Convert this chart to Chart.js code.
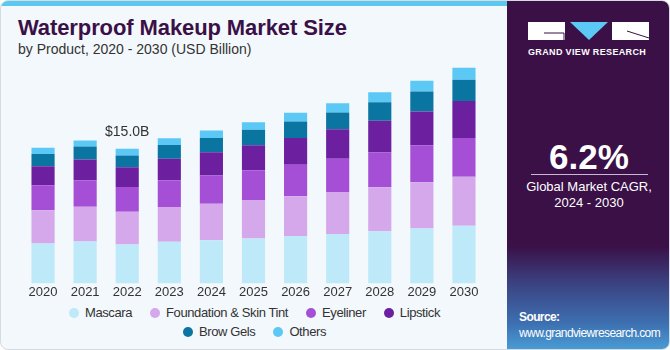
<!DOCTYPE html>
<html>
<head>
<meta charset="utf-8">
<script src="https://cdn.jsdelivr.net/npm/chart.js@4.4.1/dist/chart.umd.min.js"></script>
<style>
    body { margin: 0; width: 670px; height: 350px; overflow: hidden; background: #fff; font-family: "Liberation Sans", Arial, sans-serif; }
    #card { position: absolute; left: 0; top: 0; width: 668px; height: 348px; border: 1px solid #d5dbe0; border-radius: 8px; overflow: hidden; background: #f3f8fc; }
    #topbar { position: absolute; left: 0; top: 0; width: 506px; height: 5px; background: #5bc8f0; }
    #title { position: absolute; left: 17px; top: 14px; font-size: 22px; font-weight: bold; color: #3a1047; letter-spacing: -0.1px; }
    #subtitle { position: absolute; left: 17px; top: 40px; font-size: 14px; color: #333; }
    #chartBox { position: absolute; left: 0; top: 58px; width: 505px; height: 242px; }
    #legend { position: absolute; left: 21px; top: 304px; width: 465px; display: flex; flex-wrap: wrap; justify-content: center; font-size: 13px; color: #333; row-gap: 2px; letter-spacing: -0.4px; }
    .item { display: flex; align-items: center; margin: 0 9px; line-height: 15px; }
    .brk { flex-basis: 100%; height: 0; }
    .dot { width: 10px; height: 10px; border-radius: 50%; margin-right: 6px; }
    #side { position: absolute; left: 506px; top: 0; width: 164px; height: 350px;
        background: linear-gradient(to bottom, #3a1047 0%, #3a1047 70%, #3b3f7e 80%, #3d6fb0 92%, #4a9fd8 100%); }
    #brand { position: absolute; left: 21px; top: 46px; font-size: 9px; font-weight: bold; color: #fff; letter-spacing: 0.35px; }
    #cagr { position: absolute; left: 0; width: 164px; top: 136px; text-align: center; font-size: 35px; font-weight: bold; color: #fff; }
    #rule { position: absolute; left: 24px; top: 173px; width: 117px; height: 1px; background: #c9b8d4; }
    #cagrText { position: absolute; left: 0; width: 164px; top: 178px; text-align: center; font-size: 13px; color: #fff; line-height: 16px; }
    #source { position: absolute; left: 12px; top: 308px; font-size: 12px; color: #fff; line-height: 16px; letter-spacing: -0.6px; }
</style>
</head>
<body>
<div id="card">
    <div id="topbar"></div>
    <div id="title">Waterproof Makeup Market Size</div>
    <div id="subtitle">by Product, 2020 - 2030 (USD Billion)</div>
    <div id="chartBox"><canvas id="chart"></canvas></div>
    <div id="legend"></div>
    <div id="side">
        <svg width="164" height="45" style="position:absolute;left:0;top:0">
            <rect x="21" y="21" width="37" height="18" fill="#fff"/>
            <line x1="37" y1="32" x2="57" y2="32" stroke="#3a1047" stroke-width="1"/>
            <line x1="57" y1="32" x2="57" y2="39" stroke="#3a1047" stroke-width="1"/>
            <polygon points="63,21 101,21 82,39" fill="#5bc8f5"/>
            <rect x="105" y="21" width="37" height="18" fill="#fff"/>
            <line x1="120" y1="30" x2="142" y2="37" stroke="#3a1047" stroke-width="1"/>
        </svg>
        <div id="brand">GRAND VIEW RESEARCH</div>
        <div id="cagr">6.2%</div>
        <div id="rule"></div>
        <div id="cagrText">Global Market CAGR,<br>2024 - 2030</div>
        <div id="source"><b>Source:</b><br>www.grandviewresearch.com</div>
    </div>
</div>
<script>
// values, USD billion
const years = ["2020", "2021", "2022", "2023", "2024", "2025", "2026", "2027", "2028", "2029", "2030"];
const mascara    = [4.44, 4.67, 4.33, 4.63, 4.82, 5.01, 5.27, 5.50, 5.81, 6.12, 6.41];
const foundation = [3.72, 3.87, 3.64, 3.87, 4.06, 4.29, 4.44, 4.67, 4.90, 5.16, 5.47];
const eyeliner   = [2.77, 2.96, 2.77, 3.00, 3.15, 3.30, 3.50, 3.72, 3.87, 4.10, 4.33];
const lipstick   = [2.13, 2.31, 2.20, 2.39, 2.58, 2.80, 3.00, 3.27, 3.53, 3.76, 4.10];
const browGels   = [1.37, 1.44, 1.32, 1.52, 1.59, 1.71, 1.82, 1.89, 2.08, 2.24, 2.39];
const others     = [0.68, 0.68, 0.73, 0.76, 0.84, 0.84, 0.99, 1.02, 1.10, 1.21, 1.33];

const seriesNames = ["Mascara", "Foundation & Skin Tint", "Eyeliner", "Lipstick", "Brow Gels", "Others"];
const seriesData = [mascara, foundation, eyeliner, lipstick, browGels, others];
const colors = ["#bde9f8", "#d4a8eb", "#a54fd6", "#6c20a0", "#0a75a0", "#5bc8f5"];

const labelYear = "2022";
const labelText = "$15.0B";

// html legend, two rows like the original
const legend = document.getElementById("legend");
seriesNames.forEach((name, i) => {
    if (i === 4) {
        const br = document.createElement("div");
        br.className = "brk";
        legend.appendChild(br);
    }
    const el = document.createElement("div");
    el.className = "item";
    el.innerHTML = '<span class="dot" style="background:' + colors[i] + '"></span>' + name;
    legend.appendChild(el);
});

const totalLabel = {
    id: "totalLabel",
    afterDatasetsDraw(chart) {
        const idx = years.indexOf(labelYear);
        let total = 0;
        seriesData.forEach((s) => { total += s[idx]; });
        const x = chart.scales.x.getPixelForValue(idx);
        const y = chart.scales.y.getPixelForValue(total);
        const ctx = chart.ctx;
        ctx.save();
        ctx.font = "14px 'Liberation Sans', Arial, sans-serif";
        ctx.fillStyle = "#333";
        ctx.textAlign = "center";
        ctx.textBaseline = "bottom";
        ctx.fillText(labelText, x, y - 10);
        ctx.restore();
    }
};

new Chart(document.getElementById("chart"), {
    type: "bar",
    data: {
        labels: years,
        datasets: seriesNames.map((name, i) => ({
            label: name,
            data: seriesData[i],
            backgroundColor: colors[i],
            borderWidth: 0,
            barPercentage: 0.55,
            categoryPercentage: 1.0,
        })),
    },
    options: {
        responsive: true,
        maintainAspectRatio: false,
        animation: false,
        layout: { padding: { left: 21, right: 21, top: 0, bottom: 0 } },
        scales: {
            x: {
                stacked: true,
                grid: { display: false, drawTicks: false },
                border: { display: false },
                ticks: { color: "#333", font: { size: 13, family: "'Liberation Sans', Arial, sans-serif" }, padding: 1 },
            },
            y: {
                stacked: true,
                display: false,
                min: 0,
                max: 25,
            },
        },
        plugins: {
            legend: { display: false },
            tooltip: { enabled: false },
        },
    },
    plugins: [totalLabel],
});
</script>
</body>
</html>
